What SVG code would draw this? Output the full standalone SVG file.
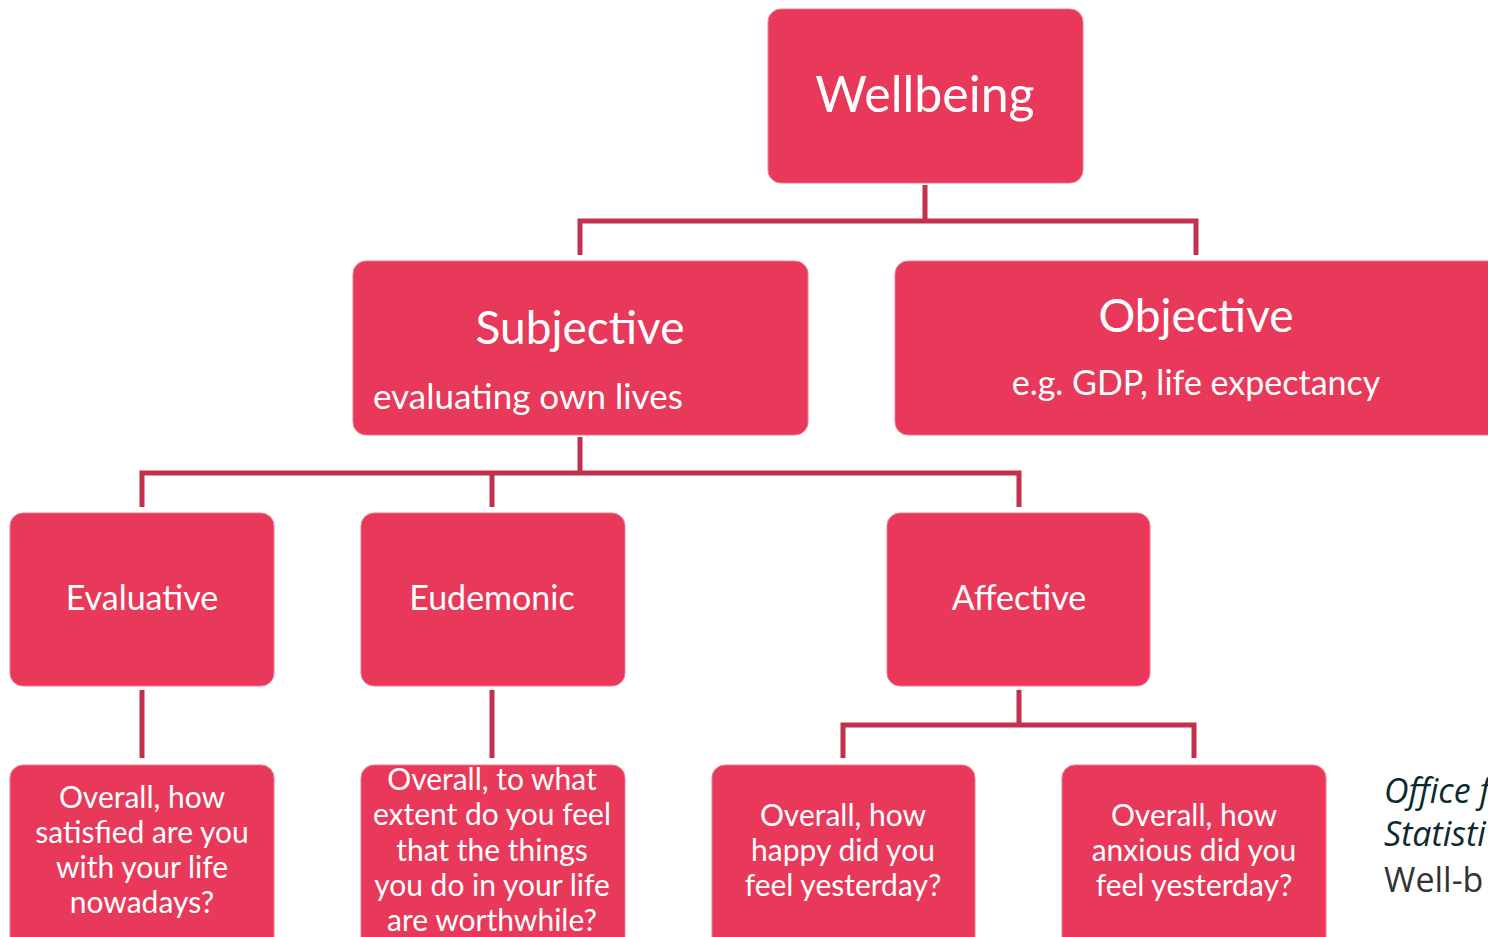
<svg xmlns="http://www.w3.org/2000/svg" width="1488" height="937" viewBox="0 0 1488 937">
<style>
.box{fill:#E8395A;stroke:#F07A90;stroke-width:1}
.t{fill:#fff;font-family:Lato,"Open Sans",sans-serif;text-anchor:middle}
.h{font-size:46px}
.m{font-size:34px}
.q{font-size:30px}
.c{fill:none;stroke:#C3304B;stroke-width:5;stroke-linejoin:miter}
</style>
<rect width="1488" height="937" fill="#fff"/>
<g id="connectors">
<path class="c" d="M925 185 V221 M580 255 V221 H1196 V255"/>
<path class="c" d="M580 437 V473 M142 507 V473 H1019 V507 M492 473 V507"/>
<path class="c" d="M142 690 V758"/>
<path class="c" d="M492 690 V758"/>
<path class="c" d="M1019 690 V725 M843 758 V725 H1194 V758"/>
</g>
<g id="wellbeing">
<rect class="box" x="768" y="9" width="315" height="174" rx="13"/>
<text class="t" x="925" y="112" font-size="50">Wellbeing</text>
</g>
<g id="subjective">
<rect class="box" x="353" y="261" width="455" height="174" rx="13"/>
<text class="t h" x="580" y="344">Subjective</text>
<text class="t" x="373" y="409" font-size="35" style="text-anchor:start">evaluating own lives</text>
</g>
<g id="objective">
<rect class="box" x="895" y="261" width="610" height="174" rx="13"/>
<text class="t h" x="1196" y="332">Objective</text>
<text class="t m" x="1196" y="395">e.g. GDP, life expectancy</text>
</g>
<g id="evaluative">
<rect class="box" x="10" y="513" width="264" height="173" rx="13"/>
<text class="t m" x="142" y="610">Evaluative</text>
</g>
<g id="eudemonic">
<rect class="box" x="361" y="513" width="264" height="173" rx="13"/>
<text class="t m" x="492" y="610">Eudemonic</text>
</g>
<g id="affective">
<rect class="box" x="887" y="513" width="263" height="173" rx="13"/>
<text class="t m" x="1019" y="610">Affective</text>
</g>
<g id="q-satisfied">
<rect class="box" x="10" y="765" width="264" height="190" rx="13"/>
<text class="t q" x="142" y="808">Overall, how</text>
<text class="t q" x="142" y="843">satisfied are you</text>
<text class="t q" x="142" y="878">with your life</text>
<text class="t q" x="142" y="913">nowadays?</text>
</g>
<g id="q-worthwhile">
<rect class="box" x="361" y="765" width="264" height="190" rx="13"/>
<text class="t q" x="492" y="790">Overall, to what</text>
<text class="t q" x="492" y="825">extent do you feel</text>
<text class="t q" x="492" y="861">that the things</text>
<text class="t q" x="492" y="896">you do in your life</text>
<text class="t q" x="492" y="931">are worthwhile?</text>
</g>
<g id="q-happy">
<rect class="box" x="712" y="765" width="263" height="190" rx="13"/>
<text class="t q" x="843" y="826">Overall, how</text>
<text class="t q" x="843" y="861">happy did you</text>
<text class="t q" x="843" y="896">feel yesterday?</text>
</g>
<g id="q-anxious">
<rect class="box" x="1062" y="765" width="264" height="190" rx="13"/>
<text class="t q" x="1194" y="826">Overall, how</text>
<text class="t q" x="1194" y="861">anxious did you</text>
<text class="t q" x="1194" y="896">feel yesterday?</text>
</g>
<g id="source" font-family="'Open Sans',sans-serif" font-size="34">
<text x="1384" y="803" font-style="italic" fill="#0D2A2E">Office f</text>
<text x="1384" y="846" font-style="italic" fill="#0D2A2E">Statisti</text>
<text x="1384" y="892" fill="#333">Well-b</text>
</g>
</svg>
